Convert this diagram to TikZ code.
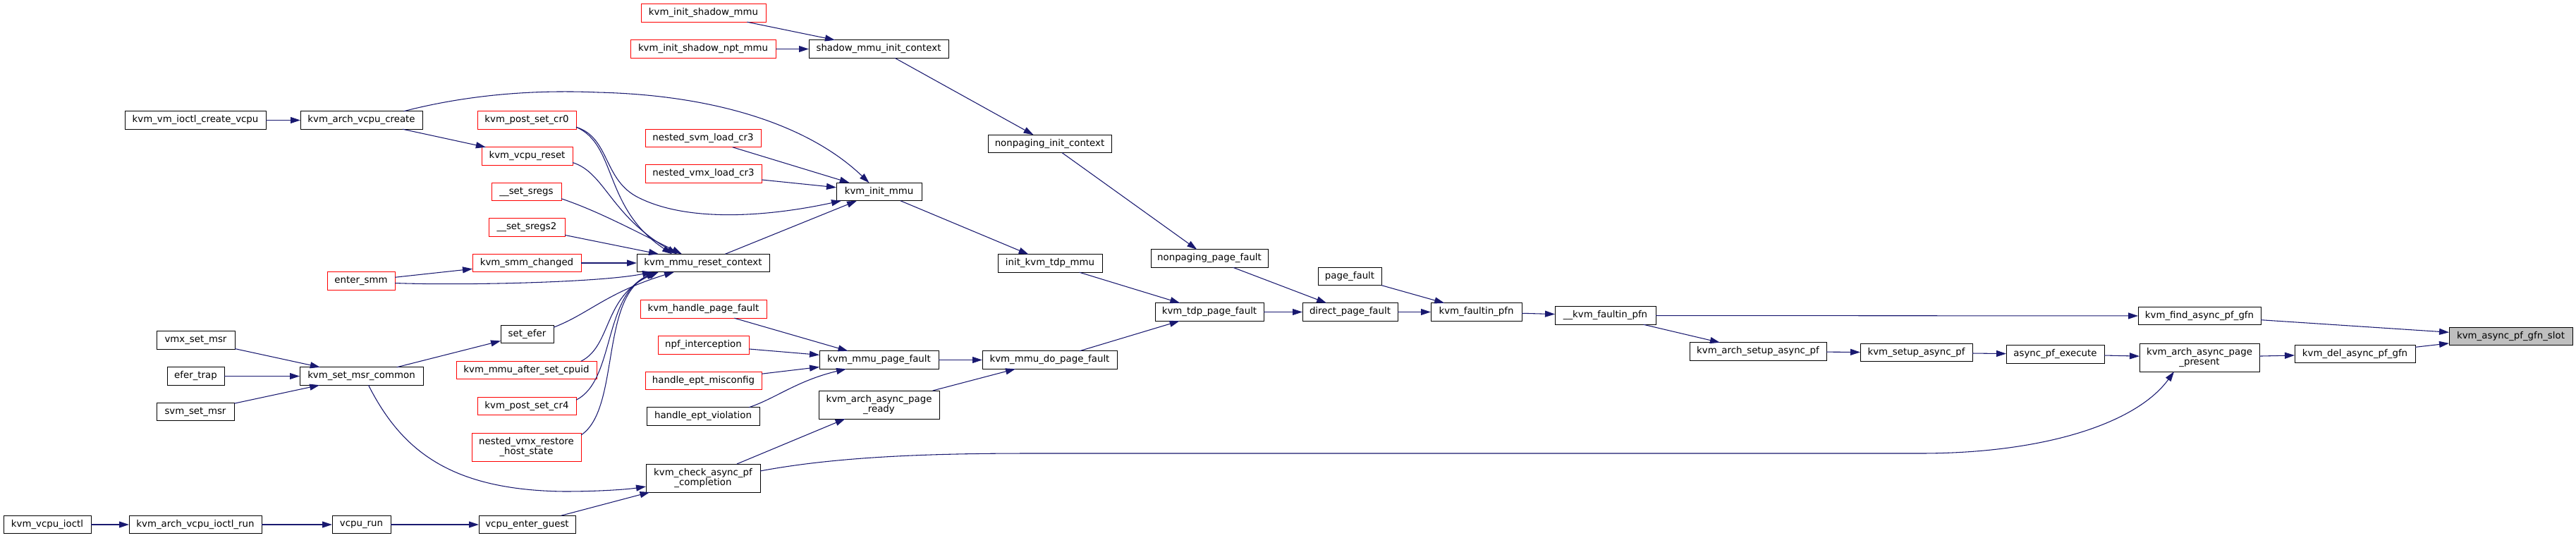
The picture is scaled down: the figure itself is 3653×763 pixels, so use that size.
\documentclass[tikz,border=0pt]{standalone}
\usepackage{fontspec}
\setmainfont{DejaVu Sans}
\usetikzlibrary{arrows.meta,calc}
\definecolor{edgec}{HTML}{191970}
\definecolor{nodeb}{HTML}{000000}
\definecolor{redb}{HTML}{FF0000}
\definecolor{grayf}{HTML}{BFBFBF}
\begin{document}
\begin{tikzpicture}[x=0.75pt,y=-0.75pt,
 fn/.style={draw=nodeb, line width=0.75pt, fill=white, inner sep=0pt, outer sep=0pt, minimum height=19.1pt, font=\fontsize{10}{10.2}\selectfont, align=center},
 rn/.style={fn, draw=redb},
 gn/.style={fn, fill=grayf},
 tall/.style={minimum height=30pt},
 wd/.style={minimum width=#1*0.75pt},
 e/.style={draw=edgec, line width=0.8pt, -{Triangle[length=10.5pt,width=6.75pt]}},
]
\useasboundingbox (0,0) rectangle (3653,763);
\fill[white] (0,0) rectangle (3653,763);

% column 1-3
\node[fn,wd=200] (vmioctl) at (277,170.5) {kvm\_vm\_ioctl\_create\_vcpu};
\node[fn,wd=173] (archcreate) at (512.5,170.5) {kvm\_arch\_vcpu\_create};
\node[rn,wd=96] (entersmm) at (512,398.5) {enter\_smm};
\node[fn,wd=111] (vmxmsr) at (277.5,482.5) {vmx\_set\_msr};
\node[fn,wd=81] (efertrap) at (277.5,533.5) {efer\_trap};
\node[fn,wd=110] (svmmsr) at (277,584) {svm\_set\_msr};
\node[fn,wd=175] (msrc) at (512.5,533.5) {kvm\_set\_msr\_common};
\node[fn,wd=124] (vcpuioctl) at (67,744) {kvm\_vcpu\_ioctl};
\node[fn,wd=188] (ioctlrun) at (277,744) {kvm\_arch\_vcpu\_ioctl\_run};
\node[fn,wd=83] (vcpurun) at (512.5,744) {vcpu\_run};

% column 4
\node[rn,wd=140] (cr0) at (747,170.5) {kvm\_post\_set\_cr0};
\node[rn,wd=129] (vreset) at (747.5,221.5) {kvm\_vcpu\_reset};
\node[rn,wd=99] (sregs) at (746.5,272) {\_\_set\_sregs};
\node[rn,wd=108] (sregstwo) at (747,322.5) {\_\_set\_sregs2};
\node[rn,wd=154] (smmchanged) at (747,373) {kvm\_smm\_changed};
\node[fn,wd=75] (setefer) at (747.5,474) {set\_efer};
\node[rn,wd=199] (afsc) at (746.5,525) {kvm\_mmu\_after\_set\_cpuid};
\node[rn,wd=140] (cr4) at (747,576) {kvm\_post\_set\_cr4};
\node[rn,wd=155,tall] (nvrhs) at (746.5,634) {nested\_vmx\_restore\\\_host\_state};
\node[fn,wd=137] (enterguest) at (747.5,744) {vcpu\_enter\_guest};

% column 5
\node[rn,wd=177] (ism) at (997.5,18.5) {kvm\_init\_shadow\_mmu};
\node[rn,wd=206] (isnm) at (997,69.5) {kvm\_init\_shadow\_npt\_mmu};
\node[rn,wd=164] (nsvm) at (997,196) {nested\_svm\_load\_cr3};
\node[rn,wd=165] (nvmx) at (997.5,246.5) {nested\_vmx\_load\_cr3};
\node[fn,wd=188] (reset) at (997,373) {kvm\_mmu\_reset\_context};
\node[rn,wd=179] (hpf) at (997.5,438.5) {kvm\_handle\_page\_fault};
\node[rn,wd=129] (npf) at (997.5,489.5) {npf\_interception};
\node[rn,wd=165] (hem) at (997.5,540) {handle\_ept\_misconfig};
\node[fn,wd=160] (hev) at (997,590.5) {handle\_ept\_violation};
\node[fn,wd=162,tall] (check) at (997,678) {kvm\_check\_async\_pf\\\_completion};

% column 6
\node[fn,wd=198] (shadow) at (1246,69.5) {shadow\_mmu\_init\_context};
\node[fn,wd=121] (initmmu) at (1246.5,272) {kvm\_init\_mmu};
\node[fn,wd=169] (mpf) at (1246.5,510.5) {kvm\_mmu\_page\_fault};
\node[fn,wd=171,tall] (ready) at (1246.5,574) {kvm\_arch\_async\_page\\\_ready};

% column 7+
\node[fn,wd=175] (npic) at (1488.5,204) {nonpaging\_init\_context};
\node[fn,wd=148] (tdpmmu) at (1489,373.5) {init\_kvm\_tdp\_mmu};
\node[fn,wd=191] (dopf) at (1488.5,510.5) {kvm\_mmu\_do\_page\_fault};
\node[fn,wd=166] (nppf) at (1715,366.5) {nonpaging\_page\_fault};
\node[fn,wd=154] (tdppf) at (1715,442.5) {kvm\_tdp\_page\_fault};
\node[fn,wd=90] (pagefault) at (1914,392) {page\_fault};
\node[fn,wd=135] (directpf) at (1914.5,442.5) {direct\_page\_fault};
\node[fn,wd=129] (faultin) at (2093.5,442.5) {kvm\_faultin\_pfn};
\node[fn,wd=143] (ufaultin) at (2276.5,447.5) {\_\_kvm\_faultin\_pfn};
\node[fn,wd=194] (archsetup) at (2493,498.5) {kvm\_arch\_setup\_async\_pf};
\node[fn,wd=159] (setup) at (2717.5,500) {kvm\_setup\_async\_pf};
\node[fn,wd=139] (execute) at (2914.5,502.5) {async\_pf\_execute};
\node[fn,wd=174] (findgfn) at (3119,448) {kvm\_find\_async\_pf\_gfn};
\node[fn,wd=170,tall] (present) at (3119,507) {kvm\_arch\_async\_page\\\_present};
\node[fn,wd=171] (delgfn) at (3339.5,502) {kvm\_del\_async\_pf\_gfn};
\node[gn,wd=175] (slot) at (3560.5,477) {kvm\_async\_pf\_gfn\_slot};

% straight edges
\draw[e] (vmioctl) -- (archcreate);
\draw[e] (archcreate) -- (vreset);
\draw[e] (vmxmsr) -- (msrc);
\draw[e] (efertrap) -- (msrc);
\draw[e] (svmmsr) -- (msrc);
\draw[e] (msrc) -- (setefer);
\draw[e] (vcpuioctl) -- (ioctlrun);
\draw[e] (ioctlrun) -- (vcpurun);
\draw[e] (vcpurun) -- (enterguest);
\draw[e] (enterguest) -- (check);
\draw[e] (entersmm) -- (smmchanged);
\draw[e] (smmchanged) -- (reset);
\draw[e] (sregstwo) -- (reset);
\draw[e] (ism) -- (shadow);
\draw[e] (isnm) -- (shadow);
\draw[e] (shadow) -- (npic);
\draw[e] (nsvm) -- (initmmu);
\draw[e] (nvmx) -- (initmmu);
\draw[e] (reset) -- (initmmu);
\draw[e] (initmmu) -- (tdpmmu);
\draw[e] (npic) -- (nppf);
\draw[e] (tdpmmu) -- (tdppf);
\draw[e] (nppf) -- (directpf);
\draw[e] (tdppf) -- (directpf);
\draw[e] (dopf) -- (tdppf);
\draw[e] (directpf) -- (faultin);
\draw[e] (pagefault) -- (faultin);
\draw[e] (faultin) -- (ufaultin);
\draw[e] (hpf) -- (mpf);
\draw[e] (npf) -- (mpf);
\draw[e] (hem) -- (mpf);
\draw[e] (mpf) -- (dopf);
\draw[e] (ready) -- (dopf);
\draw[e] (check) -- (ready);
\draw[e] (ufaultin) -- (findgfn);
\draw[e] (ufaultin) -- (archsetup);
\draw[e] (archsetup) -- (setup);
\draw[e] (setup) -- (execute);
\draw[e] (execute) -- (present);
\draw[e] (present) -- (delgfn);
\draw[e] (findgfn) -- (slot);
\draw[e] (delgfn) -- (slot);

% curved edges
\draw[e] ($(archcreate.north)+(60,0)$) .. controls (680,130) and (780,128) .. (848,131)
   .. controls (1020,135) and (1150,180) .. ($(initmmu.north)+(-14,0)$);
\draw[e] ($(cr0.south east)+(0,-3)$) .. controls (865,195) and (855,255) .. (905,280)
   .. controls (980,318) and (1100,305) .. ($(initmmu.south west)+(7,0)$);
\draw[e] ($(cr0.south east)+(0,-3)$) .. controls (875,205) and (855,295) .. ($(reset.north west)+(50,0)$);
\draw[e] ($(vreset.east)+(0,9)$) .. controls (858,245) and (865,305) .. ($(reset.north west)+(57,0)$);
\draw[e] ($(sregs.south east)+(0,-3)$) .. controls (850,300) and (905,330) .. ($(reset.north west)+(64,0)$);
\draw[e] ($(entersmm.east)+(0,3)$) .. controls (650,405) and (850,401) .. ($(reset.south west)+(22,0)$);
\draw[e] ($(setefer.north east)+(0,3)$) .. controls (835,445) and (860,415) .. ($(reset.south west)+(53,0)$);
\draw[e] ($(afsc.north east)+(-22,0)$) .. controls (868,490) and (855,420) .. ($(reset.south west)+(31,0)$);
\draw[e] ($(cr4.north east)+(0,4)$) .. controls (872,540) and (855,420) .. ($(reset.south west)+(27,0)$);
\draw[e] ($(nvrhs.north east)+(0,3)$) .. controls (880,580) and (850,420) .. ($(reset.south west)+(29,0)$);
\draw[e] ($(msrc.south)+(10,0)$) .. controls (570,640) and (640,695) .. (800,697)
   .. controls (850,697) and (890,694) .. ($(check.west)+(0,12)$);
\draw[e] ($(check.east)+(0,-10)$) .. controls (1200,645) and (1350,643) .. (1468,643)
   -- (2723,643) .. controls (2900,643) and (3030,600) .. ($(present.south west)+(49,0)$);
\draw[e] ($(hev.north east)+(-15,0)$) .. controls (1100,565) and (1130,540) .. ($(mpf.south west)+(38,0)$);
\end{tikzpicture}
\end{document}
